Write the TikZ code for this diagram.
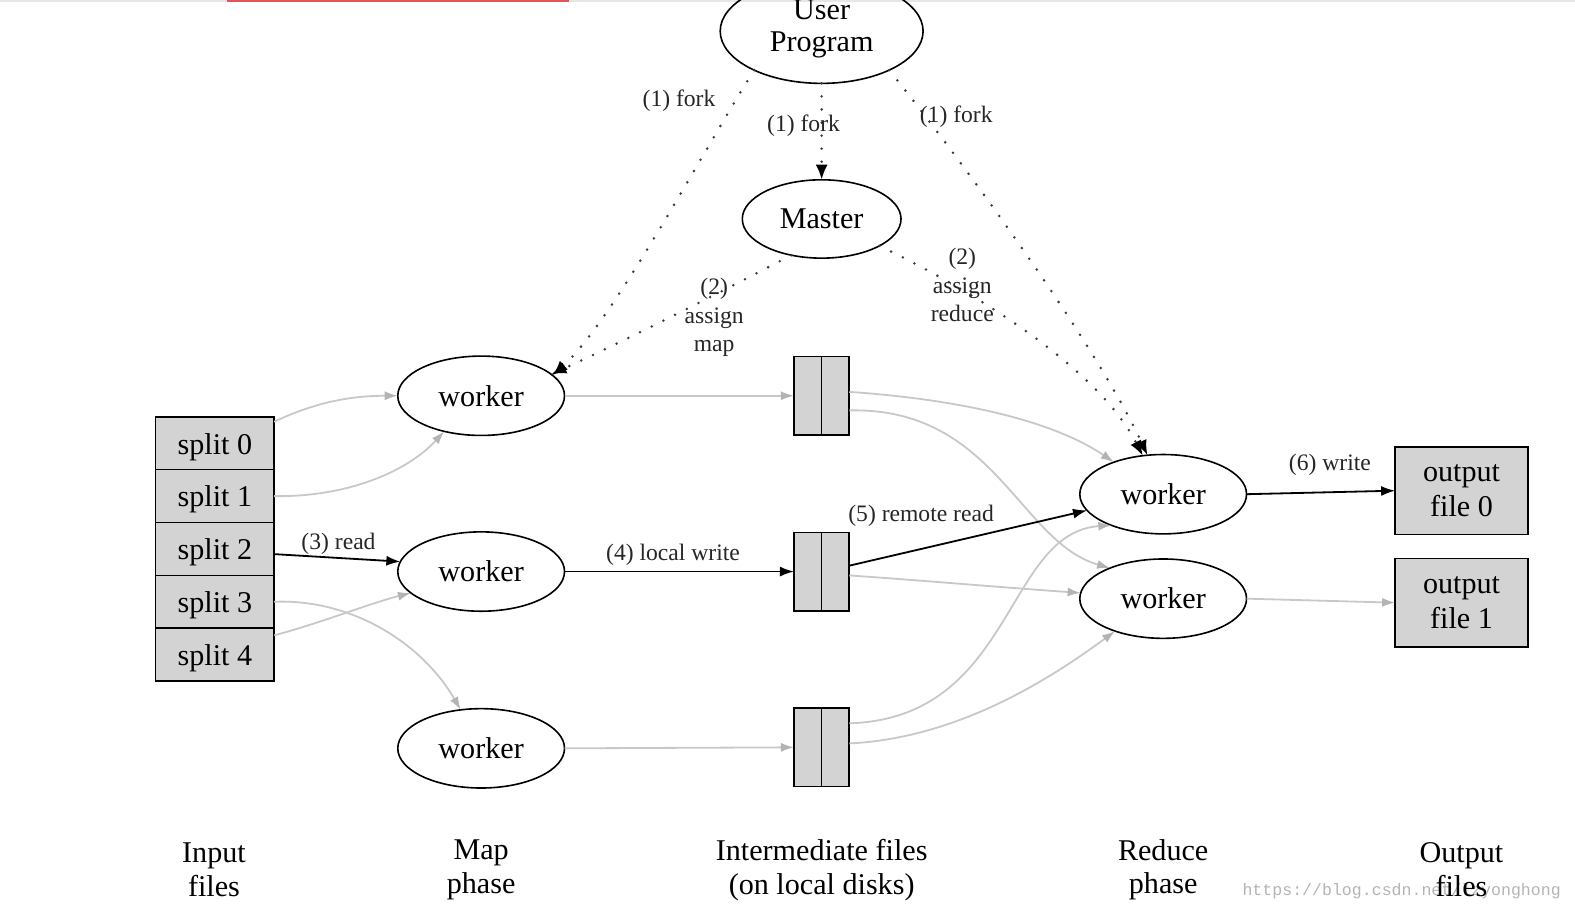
\documentclass[tikz,border=0pt]{standalone}
\usepackage{fontspec}
\setmainfont{Liberation Serif}
\newfontfamily\wmfont{Liberation Mono}
\usetikzlibrary{shapes.geometric,arrows.meta}
\definecolor{boxgray}{HTML}{D3D3D3}
\definecolor{ghostgray}{HTML}{C8C8C8}
\definecolor{dotgray}{HTML}{3A3A3A}
\definecolor{labgray}{HTML}{262626}
\definecolor{wmgray}{HTML}{B4B4B4}
\definecolor{topred}{HTML}{E25555}
\definecolor{topgray}{HTML}{E6E6E6}
\begin{document}
\begin{tikzpicture}[x=1pt,y=-1pt,
  every node/.style={font=\fontsize{30}{33}\selectfont, inner sep=0pt, outer sep=0pt},
  proc/.style={ellipse, draw, line width=1.6pt, minimum width=166pt, minimum height=79pt},
  filebox/.style={rectangle, draw, line width=1.6pt, fill=boxgray, minimum width=55pt, minimum height=78pt},
  splitbox/.style={rectangle, draw, line width=1.6pt, fill=boxgray, minimum width=118pt, minimum height=52.6pt, text height=28pt, text depth=6.5pt},
  outbox/.style={rectangle, draw, line width=1.6pt, fill=boxgray, minimum width=132pt, minimum height=87pt, align=center, font=\fontsize{30}{35}\selectfont},
  phase/.style={align=center, font=\fontsize{30}{33.5}\selectfont},
  lab/.style={align=center, text=labgray, font=\fontsize{23.5}{28.5}\selectfont},
  ghost/.style={draw=ghostgray, line width=1.8pt, -{Latex[length=13pt,width=9pt,color=ghostgray!90!black]}},
  act/.style={draw=black, line width=1.8pt, -{Latex[length=14pt,width=10pt]}},
  forkline/.style={draw=dotgray, line width=2.8pt, line cap=round, dash pattern=on 0pt off 13pt, -{Latex[length=15pt,width=12pt,color=black]}}
]
\useasboundingbox (0,0) rectangle (1568,907);
% top strip
\fill[topgray] (0,0) rectangle (1568,1.6);
\fill[topred] (226,0) rectangle (566,2);

% watermark
\node[font=\wmfont\fontsize{16.5}{18}\selectfont, text=wmgray, anchor=west] (wm) at (1237,887.5) {https://blog.csdn.net/lzyonghong};

% nodes
\node[proc, minimum width=202pt, minimum height=104pt] (up) at (818,31) {};
\node[align=center, font=\fontsize{30}{32}\selectfont] (uptext) at (818,29) {User\\Program};
\node[proc, minimum width=158pt, minimum height=78pt] (master) at (818,218) {Master};

\node[proc] (w1) at (479,394) {worker};
\node[proc] (w2) at (479,569) {worker};
\node[proc] (w3) at (479,745) {worker};

\node[filebox] (i1) at (818,394) {};
\node[filebox] (i2) at (818,569) {};
\node[filebox] (i3) at (818,744) {};
\foreach \n in {i1,i2,i3} \draw[line width=1.6pt] (\n.north) -- (\n.south);

\node[proc] (r1) at (1158,492) {worker};
\node[proc] (r2) at (1158,596) {worker};

\node[outbox] (o0) at (1455,488.5) {\rule{0pt}{5pt}output\\file 0};
\node[outbox, minimum height=88pt] (o1) at (1455,600) {\rule{0pt}{5pt}output\\file 1};

\node[splitbox] (s0) at (214,441.3) {split 0};
\node[splitbox] (s1) at (214,493.9) {split 1};
\node[splitbox] (s2) at (214,546.5) {split 2};
\node[splitbox] (s3) at (214,599.1) {split 3};
\node[splitbox] (s4) at (214,651.7) {split 4};

% phase labels
\node[phase] (pin) at (213,866) {Input\\files};
\node[phase] (pmap) at (479,866) {Map\\phase};
\node[phase] (pint) at (818,866) {Intermediate files\\(on local disks)};
\node[phase] (pred) at (1158,866) {Reduce\\phase};
\node[phase] (pout) at (1455,866) {Output\\files};

% gray connectors (inactive)
\draw[ghost] (s0.20) .. controls (315,400) and (350,394) .. (w1.180);
\draw[ghost] (s1.east) .. controls (345,495) and (405,470) .. (w1.224);
\draw[ghost] (s3.east) .. controls (350,596) and (420,640) .. (w3.118);
\draw[ghost] (s4.18) .. controls (320,620) and (370,600) .. (w2.197);
\draw[ghost] (w1.east) -- (i1.west);
\draw[ghost] (w3.east) -- (i3.west);
\draw[ghost] (i1.8) .. controls (960,398) and (1050,420) .. (r1.147);
\draw[ghost] (i1.-28) .. controls (990,405) and (1015,540) .. (r2.150);
\draw[ghost] (i2.-8) .. controls (920,578) and (1000,585) .. (r2.176);
\draw[ghost] (i3.41) .. controls (1010,715) and (1000,530) .. (r1.211);
\draw[ghost] (i3.8) .. controls (950,735) and (1040,680) .. (r2.214);
\draw[ghost] (r2.east) -- (o1.west);

% active connectors
\draw[act] (s2.-5) -- (w2.173);
\draw[act] (w2.east) -- (i2.west);
\draw[act] (i2.12) -- (r1.192);
\draw[act] (r1.east) -- (o0.west);

% fork / assign (dotted)
\draw[forkline] (up.south) -- (master.north);
\draw[forkline] (up.210) .. controls (700,150) and (610,320) .. (w1.16);
\draw[forkline] (up.-30) .. controls (950,150) and (1090,340) .. (r1.112);
\draw[forkline] (master.230) .. controls (700,300) and (620,340) .. (w1.17);
\draw[forkline] (master.-25) .. controls (950,280) and (1090,360) .. (r1.118);

% edge labels
\node[lab] (lf1) at (676,100) {(1) fork};
\node[lab] (lf2) at (800,125) {(1) fork};
\node[lab] (lf3) at (952,116) {(1) fork};
\node[lab] (la1) at (711,316) {(2)\\assign\\map};
\node[lab] (la2) at (958,284) {(2)\\assign\\reduce};
\node[lab] (l3) at (337,541) {(3) read};
\node[lab] (l4) at (670,552) {(4) local write};
\node[lab] (l5) at (917,514) {(5) remote read};
\node[lab] (l6) at (1324,463) {(6) write};
\end{tikzpicture}
\end{document}
